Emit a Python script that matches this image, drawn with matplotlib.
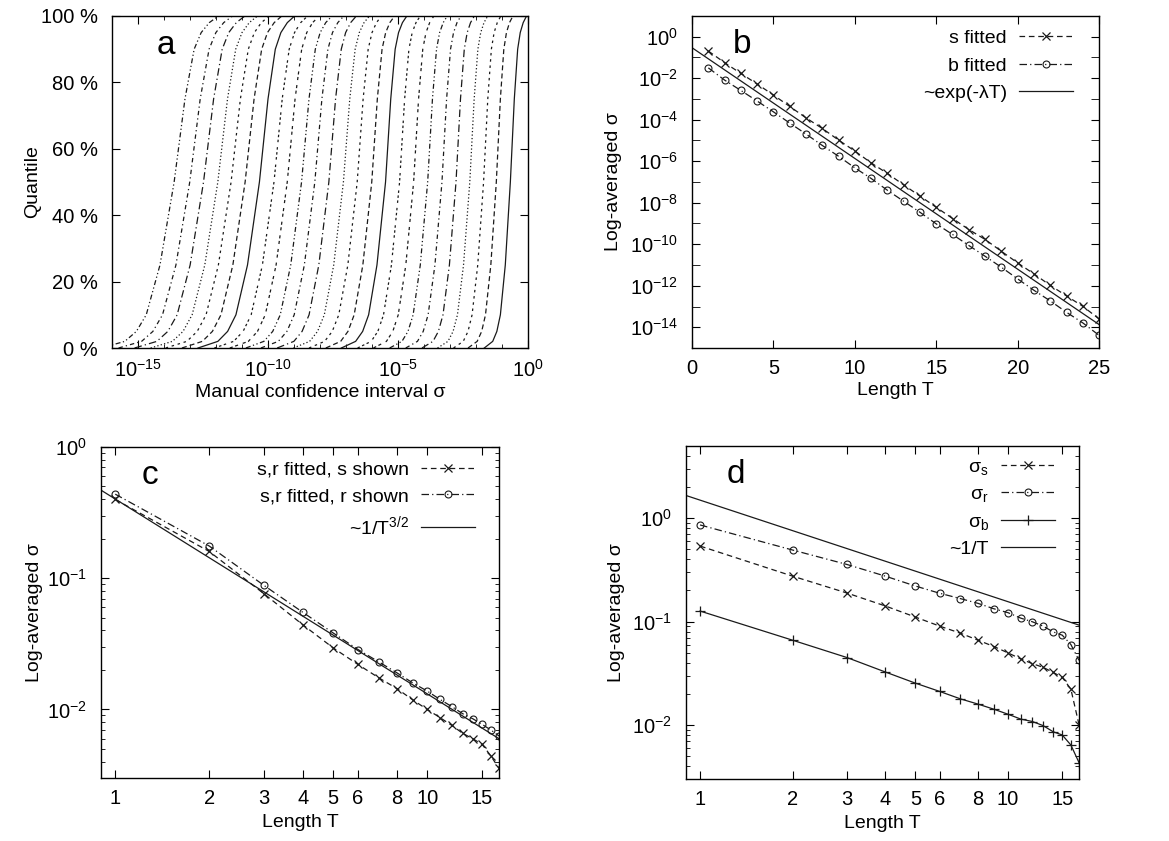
import numpy as np
import matplotlib
matplotlib.use('Agg')
import matplotlib.pyplot as plt
from matplotlib.ticker import FixedLocator, FuncFormatter, NullFormatter

plt.rcParams.update({
    'font.family': ['Liberation Sans', 'DejaVu Sans'],
    'font.size': 14,
    'mathtext.fontset': 'custom',
    'mathtext.rm': 'Liberation Sans',
    'mathtext.it': 'Liberation Sans:italic',
    'mathtext.bf': 'Liberation Sans:bold',
    'axes.unicode_minus': False,
    'axes.linewidth': 1.0,
    'xtick.direction': 'in', 'ytick.direction': 'in',
    'xtick.top': True, 'ytick.right': True,
    'xtick.major.size': 6, 'ytick.major.size': 6,
    'xtick.minor.size': 3, 'ytick.minor.size': 3,
    'xtick.major.pad': 8, 'ytick.major.pad': 10,
    'xtick.labelsize': 14.5, 'ytick.labelsize': 14.5,
})

# ---- panel a : quantile curves of sigma, one per length T = 1..25 ----
curve_T = list(range(1, 26))
# log10 of the median (50 %) position of each curve
curve_median_log10 = [-0.68, -1.22, -1.71, -2.24, -2.77, -3.31, -3.86, -4.40, -4.94, -5.48,
                      -6.01, -6.57, -7.10, -7.66, -8.20, -8.71, -9.26, -9.77, -10.33, -10.88,
                      -11.42, -11.93, -12.48, -13.01, -13.61]
# spread of each curve below / above the median, relative to the T=10 curve
curve_low_spread = [0.59, 0.64, 0.68, 0.73, 0.77, 0.82, 0.86, 0.91, 0.95, 1.00,
                    1.04, 1.09, 1.13, 1.17, 1.22, 1.26, 1.30, 1.35, 1.39, 1.43,
                    1.48, 1.52, 1.56, 1.61, 1.65]
curve_up_spread = [0.76, 0.78, 0.81, 0.84, 0.86, 0.89, 0.92, 0.95, 0.97, 1.00,
                   1.07, 1.14, 1.22, 1.29, 1.36, 1.43, 1.50, 1.58, 1.65, 1.72,
                   1.79, 1.86, 1.94, 2.01, 2.08]
quant_levels = [0, 2, 5, 10, 25, 50, 75, 90, 95, 98, 100]
quant_offsets_T10 = [-1.70, -1.15, -0.88, -0.65, -0.33, 0.0, 0.20, 0.37, 0.50, 0.65, 0.82]

# ---- panel b ----
b_T = list(range(1, 26))
b_s_fitted_log10 = [-0.69, -1.25, -1.77, -2.28, -2.81, -3.36, -3.91, -4.42, -4.98, -5.51,
                    -6.08, -6.59, -7.14, -7.68, -8.22, -8.76, -9.29, -9.77, -10.34, -10.90,
                    -11.43, -11.98, -12.49, -12.99, -13.60]
b_b_fitted_log10 = [-1.50, -2.09, -2.59, -3.10, -3.62, -4.16, -4.69, -5.24, -5.76, -6.32,
                    -6.83, -7.40, -7.93, -8.46, -9.02, -9.53, -10.06, -10.58, -11.11, -11.67,
                    -12.22, -12.73, -13.28, -13.79, -14.39]
b_exp_T = [0, 25]
b_exp_log10 = [-0.53, -13.87]

# ---- panel c ----
c_T = list(range(1, 18))
c_s_shown = [0.398, 0.160, 0.076, 0.044, 0.0294, 0.0220, 0.0174, 0.0144, 0.0118, 0.0100,
             0.00865, 0.00755, 0.00657, 0.00598, 0.00542, 0.00442, 0.00355]
c_r_shown = [0.437, 0.176, 0.088, 0.0548, 0.0382, 0.0286, 0.0230, 0.0190, 0.0159, 0.0138,
             0.0119, 0.0105, 0.00927, 0.00849, 0.00769, 0.00697, 0.00627]
c_pow_T = [0.9, 17]
c_pow_sigma = [0.469, 0.00598]

# ---- panel d ----
d_T = list(range(1, 18))
d_sigma_s = [0.538, 0.275, 0.189, 0.1415, 0.1107, 0.0904, 0.0773, 0.0660, 0.0574, 0.0498,
             0.0435, 0.0392, 0.0361, 0.0323, 0.0289, 0.0222, 0.0101]
d_sigma_r = [0.861, 0.492, 0.357, 0.275, 0.221, 0.188, 0.167, 0.150, 0.133, 0.122,
             0.108, 0.0996, 0.0904, 0.0796, 0.0739, 0.0600, 0.0422]
d_sigma_b = [0.1265, 0.0660, 0.0449, 0.0325, 0.0254, 0.0211, 0.0179, 0.0159, 0.0142, 0.0127,
             0.0114, 0.0108, 0.00986, 0.00861, 0.0080, 0.0064, 0.00433]
d_inv_T = [0.9, 17]
d_inv_sigma = [1.66, 0.0925]

# gnuplot-like dash cycle (9 line types)
LT = [None, (4, 2.5), (2, 3), (1, 1.8), (6, 2.5, 1, 2.5), (3.5, 2.5, 1, 2.5),
      (4, 2, 1, 2, 1, 2), (2.5, 2, 2.5, 4), (2, 2, 2, 2, 2, 4)]
LW = 0.9
INK = '#1a1a1a'
DASHED = (4.5, 3)
DASHDOT = (6, 2.5, 1, 2.5)
LEG = dict(loc='upper right', markerfirst=False, frameon=False, handlelength=2.8,
           handletextpad=0.6, borderpad=0, borderaxespad=0)


def pow10(v, pos=None):
    return r'$10^{%d}$' % int(round(np.log10(v)))


fig = plt.figure(figsize=(11.69, 8.41), dpi=100)

# ---------------- a ----------------
ax = fig.add_axes([0.0958, 0.5862, 0.3559, 0.3948])
prof = np.array(quant_offsets_T10)
for i, T in enumerate(curve_T):
    offs = np.where(prof < 0, prof * curve_low_spread[i], prof * curve_up_spread[i])
    x = 10 ** (curve_median_log10[i] + offs)
    ln, = ax.plot(x, quant_levels, color=INK, lw=LW)
    if LT[(T - 1) % 9] is not None:
        ln.set_dashes(LT[(T - 1) % 9])
ax.set_xscale('log')
ax.set_xlim(1e-16, 1)
ax.set_ylim(0, 100)
ax.xaxis.set_major_locator(FixedLocator([1e-15, 1e-10, 1e-5, 1]))
ax.xaxis.set_minor_locator(FixedLocator([10.0 ** k for k in range(-16, 1)]))
ax.xaxis.set_major_formatter(FuncFormatter(pow10))
ax.xaxis.set_minor_formatter(NullFormatter())
ax.set_yticks([0, 20, 40, 60, 80, 100])
ax.set_yticklabels(['0 %', '20 %', '40 %', '60 %', '80 %', '100 %'])
ax.set_xlabel('Manual confidence interval σ', labelpad=2)
ax.set_ylabel('Quantile', labelpad=0)
ax.text(0.108, 0.91, 'a', transform=ax.transAxes, fontsize=24, va='center')

# ---------------- b ----------------
ax = fig.add_axes([0.592, 0.5862, 0.3482, 0.3948])
ln, = ax.plot(b_T, 10 ** np.array(b_s_fitted_log10), color=INK, lw=LW, marker='x',
              ms=6, mew=0.9, label='s fitted')
ln.set_dashes(DASHED)
ln, = ax.plot(b_T, 10 ** np.array(b_b_fitted_log10), color=INK, lw=LW, marker='o',
              ms=5, mew=0.8, mfc='none', label='b fitted')
ln.set_dashes(DASHDOT)
ax.plot(b_exp_T, 10 ** np.array(b_exp_log10), color=INK, lw=LW, label='~exp(-λT)')
ax.set_yscale('log')
ax.set_xlim(0, 25)
ax.set_ylim(1e-15, 1e1)
ax.set_xticks([0, 5, 10, 15, 20, 25])
ax.yaxis.set_major_locator(FixedLocator([10.0 ** k for k in range(-14, 1, 2)]))
ax.yaxis.set_minor_locator(FixedLocator([10.0 ** k for k in range(-15, 2, 2)]))
ax.yaxis.set_major_formatter(FuncFormatter(pow10))
ax.yaxis.set_minor_formatter(NullFormatter())
ax.tick_params(axis='y', which='minor', length=6)
ax.set_xlabel('Length T', labelpad=3)
ax.set_ylabel('Log-averaged σ', labelpad=6)
ax.text(0.10, 0.915, 'b', transform=ax.transAxes, fontsize=24, va='center')
ax.legend(bbox_to_anchor=(0.936, 0.959), labelspacing=0.5, **LEG)


def log_T_axis(ax, pad):
    ax.set_xscale('log')
    ax.set_xlim(0.9, 17)
    ax.xaxis.set_major_locator(FixedLocator([1, 2, 3, 4, 5, 6, 8, 10, 15]))
    ax.xaxis.set_major_formatter(FuncFormatter(lambda v, p: '%d' % v))
    ax.xaxis.set_minor_locator(FixedLocator([]))
    ax.set_yscale('log')
    ax.yaxis.set_major_locator(FixedLocator([1e-2, 1e-1, 1e0]))
    ax.yaxis.set_major_formatter(FuncFormatter(pow10))
    ax.yaxis.set_minor_locator(FixedLocator([m * 10.0 ** k for k in range(-3, 1) for m in range(2, 10)]))
    ax.yaxis.set_minor_formatter(NullFormatter())
    ax.set_xlabel('Length T', labelpad=4)
    ax.set_ylabel('Log-averaged σ', labelpad=pad)


# ---------------- c ----------------
ax = fig.add_axes([0.0864, 0.0749, 0.3405, 0.3936])
ln, = ax.plot(c_T, c_s_shown, color=INK, lw=LW, marker='x', ms=6, mew=0.9,
              label='s,r fitted, s shown')
ln.set_dashes(DASHED)
ln, = ax.plot(c_T, c_r_shown, color=INK, lw=LW, marker='o', ms=5, mew=0.8, mfc='none',
              label='s,r fitted, r shown')
ln.set_dashes(DASHDOT)
ax.plot(c_pow_T, c_pow_sigma, color=INK, lw=LW, label='~1/T$^{3/2}$')
log_T_axis(ax, 3)
ax.set_ylim(0.003, 1)
ax.text(0.103, 0.915, 'c', transform=ax.transAxes, fontsize=24, va='center')
ax.legend(bbox_to_anchor=(0.940, 0.957), labelspacing=0.45, **LEG)

# ---------------- d ----------------
ax = fig.add_axes([0.5868, 0.0737, 0.3362, 0.396])
ln, = ax.plot(d_T, d_sigma_s, color=INK, lw=LW, marker='x', ms=6, mew=0.9,
              label='σ$_\\mathrm{s}$')
ln.set_dashes(DASHED)
ln, = ax.plot(d_T, d_sigma_r, color=INK, lw=LW, marker='o', ms=5, mew=0.8, mfc='none',
              label='σ$_\\mathrm{r}$')
ln.set_dashes(DASHDOT)
ax.plot(d_T, d_sigma_b, color=INK, lw=LW, marker='+', ms=7, mew=0.9, label='σ$_\\mathrm{b}$')
ax.plot(d_inv_T, d_inv_sigma, color=INK, lw=LW, label='~1/T')
log_T_axis(ax, 5)
ax.set_ylim(0.003, 5)
ax.text(0.104, 0.913, 'd', transform=ax.transAxes, fontsize=24, va='center')
ax.legend(bbox_to_anchor=(0.939, 0.963), labelspacing=0.45, **LEG)

fig.savefig('out.png', dpi=100)
